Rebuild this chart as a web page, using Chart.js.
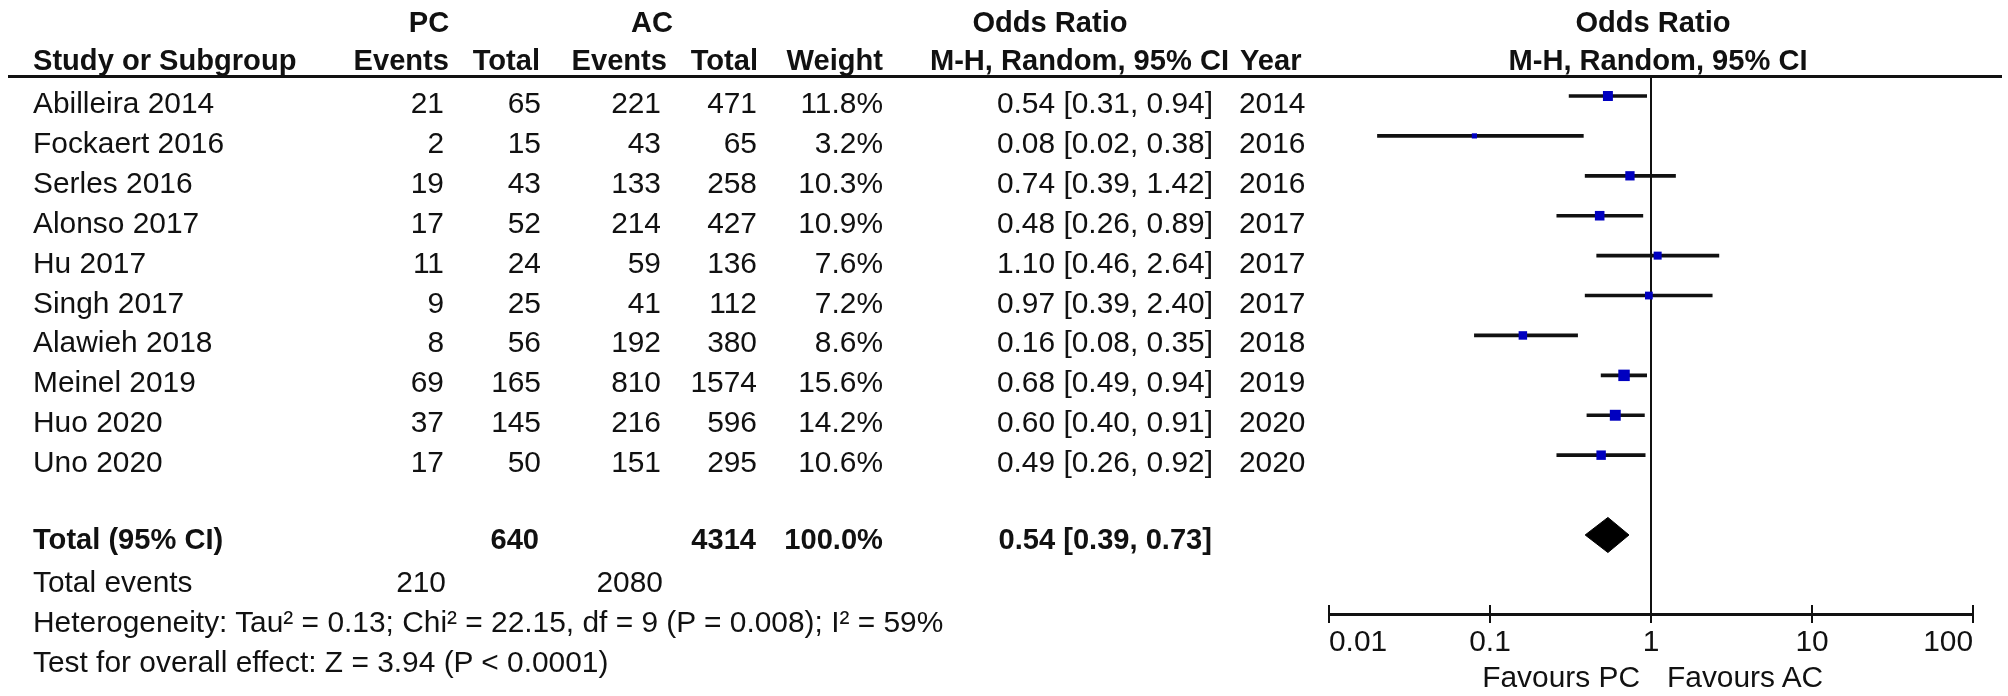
<!DOCTYPE html>
<html>
<head>
<meta charset="utf-8">
<script src="https://cdn.jsdelivr.net/npm/chart.js@4.4.1/dist/chart.umd.min.js"></script>
<style>
  body { margin: 0; background: #fff; }
  #wrap { position: relative; width: 2008px; height: 696px; overflow: hidden; background: #fff; }
  #plot { position: absolute; left: 0; top: 0; }
  .t { position: absolute; white-space: nowrap; font-family: "Liberation Sans", Arial, sans-serif;
       font-size: 29.9px; line-height: 34px; height: 34px; color: #111; }
  .b { font-weight: bold; font-size: 29.1px; }
  .hline { position: absolute; left: 8px; width: 1994px; top: 75px; height: 3px; background: #111; }
</style>
</head>
<body>
<div id="wrap">
  <canvas id="plot" width="2008" height="696"></canvas>
  <div class="hline"></div>
</div>
<script>
// forest plot data
var studies = ['Abilleira 2014', 'Fockaert 2016', 'Serles 2016', 'Alonso 2017', 'Hu 2017',
               'Singh 2017', 'Alawieh 2018', 'Meinel 2019', 'Huo 2020', 'Uno 2020'];
var pcEvents = [21, 2, 19, 17, 11, 9, 8, 69, 37, 17];
var pcTotal = [65, 15, 43, 52, 24, 25, 56, 165, 145, 50];
var acEvents = [221, 43, 133, 214, 59, 41, 192, 810, 216, 151];
var acTotal = [471, 65, 258, 427, 136, 112, 380, 1574, 596, 295];
var weights = [11.8, 3.2, 10.3, 10.9, 7.6, 7.2, 8.6, 15.6, 14.2, 10.6];
var oddsRatio = [0.54, 0.08, 0.74, 0.48, 1.10, 0.97, 0.16, 0.68, 0.60, 0.49];
var ciLow = [0.31, 0.02, 0.39, 0.26, 0.46, 0.39, 0.08, 0.49, 0.40, 0.26];
var ciHigh = [0.94, 0.38, 1.42, 0.89, 2.64, 2.40, 0.35, 0.94, 0.91, 0.92];
var years = [2014, 2016, 2016, 2017, 2017, 2017, 2018, 2019, 2020, 2020];

var totalPC = 640, totalAC = 4314, totalWeight = 100.0;
var eventsPC = 210, eventsAC = 2080;
var pooled = [0.54, 0.39, 0.73]; // OR, low, high

var tickValues = [0.01, 0.1, 1, 10, 100];
var tickLabels = ['0.01', '0.1', '1', '10', '100'];

var heterogeneity = 'Heterogeneity: Tau² = 0.13; Chi² = 22.15, df = 9 (P = 0.008); I² = 59%';
var overall = 'Test for overall effect: Z = 3.94 (P < 0.0001)';

var FONT = '"Liberation Sans", Arial, sans-serif';
var TOTAL_ROW = 11;

// --- table text ---
var wrap = document.getElementById('wrap');
function put(text, x, y, align, bold) {
    var d = document.createElement('div');
    d.className = 't' + (bold ? ' b' : '');
    d.textContent = text;
    d.style.left = x + 'px';
    d.style.top = (y - 17) + 'px';
    if (align === 'right') d.style.transform = 'translateX(-100%)';
    if (align === 'center') d.style.transform = 'translateX(-50%)';
    wrap.appendChild(d);
}
function rowY(i) { return 103 + 39.9 * i; }
function ciText(o, l, h) { return o.toFixed(2) + ' [' + l.toFixed(2) + ', ' + h.toFixed(2) + ']'; }

put('PC', 429, 22, 'center', true);
put('AC', 652, 22, 'center', true);
put('Odds Ratio', 1050, 22, 'center', true);
put('Odds Ratio', 1653, 22, 'center', true);
put('Study or Subgroup', 33, 60, 'left', true);
put('Events', 449, 60, 'right', true);
put('Total', 540, 60, 'right', true);
put('Events', 667, 60, 'right', true);
put('Total', 758, 60, 'right', true);
put('Weight', 883, 60, 'right', true);
put('M-H, Random, 95% CI', 1229, 60, 'right', true);
put('Year', 1240, 60, 'left', true);
put('M-H, Random, 95% CI', 1658, 60, 'center', true);

studies.forEach(function(s, i) {
    var y = rowY(i);
    put(s, 33, y, 'left');
    put(String(pcEvents[i]), 444, y, 'right');
    put(String(pcTotal[i]), 541, y, 'right');
    put(String(acEvents[i]), 661, y, 'right');
    put(String(acTotal[i]), 757, y, 'right');
    put(weights[i].toFixed(1) + '%', 883, y, 'right');
    put(ciText(oddsRatio[i], ciLow[i], ciHigh[i]), 1213, y, 'right');
    put(String(years[i]), 1239, y, 'left');
});

var ty = rowY(TOTAL_ROW) - 3;
put('Total (95% CI)', 33, ty, 'left', true);
put(String(totalPC), 539, ty, 'right', true);
put(String(totalAC), 756, ty, 'right', true);
put(totalWeight.toFixed(1) + '%', 883, ty, 'right', true);
put(ciText(pooled[0], pooled[1], pooled[2]), 1212, ty, 'right', true);
put('Total events', 33, rowY(12), 'left');
put(String(eventsPC), 446, rowY(12), 'right');
put(String(eventsAC), 663, rowY(12), 'right');
put(heterogeneity, 33, rowY(13), 'left');
put(overall, 33, rowY(14), 'left');
put('Favours PC', 1640, 677, 'right');
put('Favours AC', 1667, 677, 'left');

// ticks that also poke above the axis line
var upTicks = {
    id: 'upTicks',
    afterDraw: function(chart) {
        var sx = chart.scales.x, ctx = chart.ctx, b = chart.chartArea.bottom;
        ctx.save();
        ctx.strokeStyle = '#111';
        ctx.lineWidth = 2;
        tickValues.forEach(function(v) {
            var px = sx.getPixelForValue(v);
            ctx.beginPath();
            ctx.moveTo(px, b - 9);
            ctx.lineTo(px, b);
            ctx.stroke();
        });
        ctx.restore();
    }
};

var h = 0.44; // half height of the diamond in row units
var ctx = document.getElementById('plot').getContext('2d');
var forest = new Chart(ctx, {
    type: 'scatter',
    data: {
        datasets: [
            {
                type: 'scatter',
                data: studies.map(function(s, i) { return { x: oddsRatio[i], y: i }; }),
                pointStyle: 'rect',
                pointRadius: function(c) { return 2.05 * Math.sqrt(weights[c.dataIndex]); },
                pointHoverRadius: function(c) { return 2.05 * Math.sqrt(weights[c.dataIndex]); },
                backgroundColor: '#0000c0',
                borderWidth: 0,
                order: 1,
            },
            {
                type: 'bar',
                indexAxis: 'y',
                data: studies.map(function(s, i) { return { x: [ciLow[i], ciHigh[i]], y: i }; }),
                backgroundColor: '#111',
                barThickness: 3,
                borderWidth: 0,
                order: 2,
            },
            {
                type: 'line',
                data: [
                    { x: pooled[1], y: TOTAL_ROW },
                    { x: pooled[0], y: TOTAL_ROW - h },
                    { x: pooled[2], y: TOTAL_ROW },
                    { x: pooled[0], y: TOTAL_ROW + h },
                    { x: pooled[1], y: TOTAL_ROW },
                ],
                fill: 'shape',
                backgroundColor: '#000',
                borderColor: '#000',
                borderWidth: 1,
                pointRadius: 0,
                tension: 0,
                order: 0,
            },
        ],
    },
    options: {
        responsive: false,
        animation: false,
        layout: { padding: { left: 1329, right: 35, top: 77, bottom: 32 } },
        plugins: { legend: { display: false }, tooltip: { enabled: false } },
        scales: {
            x: {
                type: 'logarithmic',
                min: 0.01,
                max: 100,
                offset: false,
                afterBuildTicks: function(axis) {
                    axis.ticks = tickValues.map(function(v) { return { value: v }; });
                },
                afterFit: function(axis) { axis.height = 50; },
                border: { display: true, color: '#111', width: 3 },
                grid: {
                    drawOnChartArea: true,
                    offset: false,
                    color: function(c) { return c.tick && c.tick.value === 1 ? '#111' : 'rgba(0,0,0,0)'; },
                    lineWidth: 2,
                    tickColor: '#111',
                    tickLength: 9,
                    tickWidth: 2,
                },
                ticks: {
                    align: 'inner',
                    autoSkip: false,
                    maxRotation: 0,
                    padding: 2,
                    color: '#111',
                    font: { family: FONT, size: 29.9 },
                    callback: function(value, index) { return tickLabels[index]; },
                },
            },
            y: {
                type: 'linear',
                display: false,
                reverse: true,
                offset: false,
                min: -0.476,
                max: 12.98,
            },
        },
    },
    plugins: [upTicks],
});
</script>
</body>
</html>
